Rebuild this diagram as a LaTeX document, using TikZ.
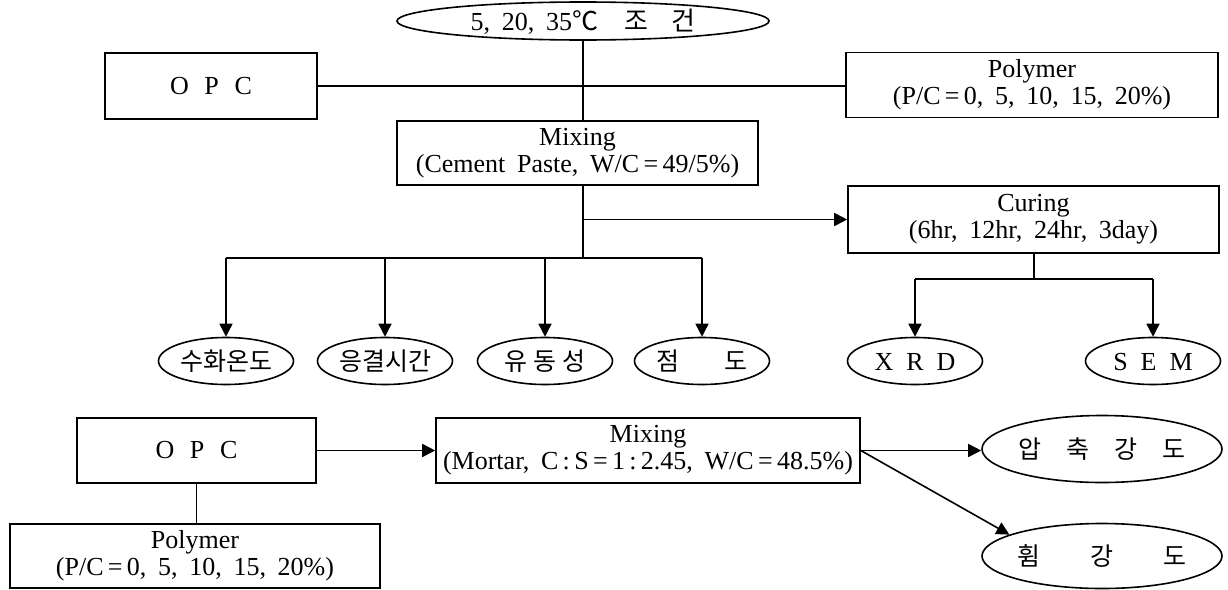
\documentclass[tikz,border=0pt]{standalone}
\usepackage{fontspec}
\setmainfont{Liberation Serif}
\newfontfamily\kr{Noto Sans CJK KR}
\usetikzlibrary{arrows.meta,shapes.geometric}
\newcommand\gap{\hspace{0.45em}}
\newcommand\zc[1]{\smash{\makebox[0pt]{\raisebox{-0.36em}{#1}}}}
\begin{document}
\begin{tikzpicture}[x=1pt,y=-1pt,
  box/.style={draw, line width=1.6pt, rectangle, inner sep=0pt, align=center, font=\fontsize{26}{27}\selectfont},
  oval/.style={draw, line width=1.6pt, ellipse, inner sep=0pt, font=\fontsize{25}{26}\selectfont},
  meas/.style={oval, minimum width=135pt, minimum height=47pt},
  wire/.style={line width=1.6pt},
  arr/.style={line width=1.6pt, -{Triangle[length=13pt,width=13pt]}},
]
\useasboundingbox (0,0) rectangle (1228,589);
% top part
\node[oval, minimum width=372pt, minimum height=38pt, font=\fontsize{26}{27}\selectfont] (cond) at (583,21)
  {\zc{5,\gap 20,\gap 35{\kr ℃}\hspace{1em}{\kr 조\hspace{0.9em}건}}};
\node[box, minimum width=212pt, minimum height=66pt] (opc1) at (211,86) {O\hspace{0.6em}P\hspace{0.6em}C};
\node[box, minimum width=372pt, minimum height=65pt] (poly1) at (1032,85)
  {Polymer\\(P/C\,=\,0,\gap 5,\gap 10,\gap 15,\gap 20\%)};
\node[box, minimum width=361pt, minimum height=64pt] (mix1) at (577.5,153)
  {Mixing\\(Cement\gap Paste,\gap W/C\,=\,49/5\%)};
\node[box, minimum width=371pt, minimum height=67pt] (cure) at (1033.5,219.5)
  {Curing\\(6hr,\gap 12hr,\gap 24hr,\gap 3day)};
\node[meas] (e1) at (226,361) {\zc{\kr 수화온도}};
\node[meas] (e2) at (385,361) {\zc{\kr 응결시간}};
\node[meas] (e3) at (545,361) {\zc{\kr 유\hspace{0.25em}동\hspace{0.25em}성}};
\node[meas] (e4) at (702,361) {\zc{\kr 점\hspace{1.8em}도}};
\node[meas, font=\fontsize{26}{27}\selectfont] (xrd) at (915,361) {\zc{X\hspace{0.5em}R\hspace{0.5em}D}};
\node[meas, font=\fontsize{26}{27}\selectfont] (sem) at (1153,361) {\zc{S\hspace{0.5em}E\hspace{0.5em}M}};
\coordinate (b1) at (583,258);
\coordinate (b2) at (1034,279);
\draw[wire] (cond.south) -- (cond.south |- mix1.north);
\draw[wire] (opc1.east) -- (opc1.east -| poly1.west);
\draw[wire] (b1 |- mix1.south) -- (b1);
\draw[arr] (b1 |- cure.west) -- (cure.west);
\draw[wire] (e1.north |- b1) -- (e4.north |- b1);
\foreach \n in {e1,e2,e3,e4} \draw[arr] (\n.north |- b1) -- (\n.north);
\draw[wire] (b2 |- cure.south) -- (b2);
\draw[wire] (xrd.north |- b2) -- (sem.north |- b2);
\draw[arr] (xrd.north |- b2) -- (xrd.north);
\draw[arr] (sem.north |- b2) -- (sem.north);
% bottom part
\node[box, minimum width=239pt, minimum height=65pt] (opc2) at (196.5,450.5) {O\hspace{0.6em}P\hspace{0.6em}C};
\node[box, minimum width=370pt, minimum height=64pt] (poly2) at (195,556)
  {Polymer\\(P/C\,=\,0,\gap 5,\gap 10,\gap 15,\gap 20\%)};
\node[box, minimum width=424pt, minimum height=65pt] (mix2) at (648,450.5)
  {Mixing\\(Mortar,\gap C\,:\,S\,=\,1\,:\,2.45,\gap W/C\,=\,48.5\%)};
\node[oval, minimum width=240pt, minimum height=67pt] (comp) at (1102,449)
  {\zc{\kr 압\hspace{1em}축\hspace{1em}강\hspace{1em}도}};
\node[oval, minimum width=240pt, minimum height=65pt] (flex) at (1102,556)
  {\zc{\kr 휨\hspace{2em}강\hspace{2em}도}};
\draw[arr] (opc2.east) -- (mix2.west);
\draw[wire] (opc2.south) -- (opc2.south |- poly2.north);
\draw[arr] (mix2.east) -- (mix2.east -| comp.west);
\draw[arr] (mix2.east) -- (flex.167);
\end{tikzpicture}
\end{document}
